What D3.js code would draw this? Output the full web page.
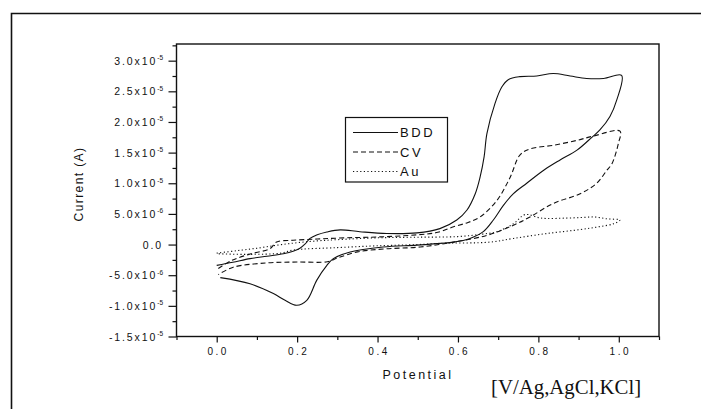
<!DOCTYPE html>
<html>
<head>
<meta charset="utf-8">
<script src="https://cdn.jsdelivr.net/npm/d3@7"></script>
<style>
  html, body { margin: 0; padding: 0; background: #fff; }
  svg { display: block; }
  text { fill: #111; font-family: "Liberation Sans", Arial, sans-serif; }
</style>
</head>
<body>
<svg id="chart" width="701" height="409"></svg>
<script>
// Cyclic voltammograms: potential (V) vs current (A)
const bddPotential = [0.000, 0.040, 0.083, 0.125, 0.166, 0.190, 0.207, 0.220, 0.232, 0.250, 0.274, 0.307, 0.356, 0.423, 0.498, 0.555, 0.597, 0.622, 0.643, 0.655, 0.665, 0.672, 0.692, 0.709, 0.725, 0.754, 0.796, 0.837, 0.879, 0.920, 0.962, 1.007,
  0.995, 0.978, 0.953, 0.933, 0.896, 0.854, 0.815, 0.771, 0.738, 0.713, 0.688, 0.663, 0.630, 0.589, 0.555, 0.498, 0.414, 0.332, 0.290, 0.274, 0.249, 0.224, 0.199, 0.170, 0.141, 0.083, 0.009];
const bddCurrent = [-3.4e-6, -2.9e-6, -2.3e-6, -1.9e-6, -1.5e-6, -1.1e-6, -0.6e-6, 0.1e-6, 1.0e-6, 1.6e-6, 2.05e-6, 2.4e-6, 2.1e-6, 1.8e-6, 1.9e-6, 2.6e-6, 4.0e-6, 5.6e-6, 8.3e-6, 11.0e-6, 14.3e-6, 18.1e-6, 23.0e-6, 25.7e-6, 26.9e-6, 27.4e-6, 27.5e-6, 27.9e-6, 27.5e-6, 27.1e-6, 27.1e-6, 27.6e-6,
  23.6e-6, 20.9e-6, 18.7e-6, 17.5e-6, 15.4e-6, 13.8e-6, 12.2e-6, 10.0e-6, 8.3e-6, 6.4e-6, 4.0e-6, 2.1e-6, 1.0e-6, 0.4e-6, 0.2e-6, -0.1e-6, -0.4e-6, -1.2e-6, -2.3e-6, -3.4e-6, -5.8e-6, -9.1e-6, -9.9e-6, -9.1e-6, -8.0e-6, -6.4e-6, -5.4e-6];

const cvPotential = [0.004, 0.037, 0.080, 0.133, 0.149, 0.190, 0.250, 0.320, 0.406, 0.500, 0.550, 0.589, 0.625, 0.655, 0.697, 0.730, 0.754, 0.779, 0.837, 0.896, 0.937, 1.003,
  0.999, 0.983, 0.970, 0.945, 0.904, 0.837, 0.779, 0.738, 0.672, 0.589, 0.506, 0.420, 0.350, 0.300, 0.275, 0.200, 0.124, 0.041, 0.004];
const cvCurrent = [-3.9e-6, -2.6e-6, -1.6e-6, -0.65e-6, 0.42e-6, 0.7e-6, 0.9e-6, 1.1e-6, 1.25e-6, 1.6e-6, 2.0e-6, 2.9e-6, 3.6e-6, 4.5e-6, 7.2e-6, 11.0e-6, 14.6e-6, 15.6e-6, 16.2e-6, 17.0e-6, 17.7e-6, 18.5e-6,
  16.5e-6, 13.2e-6, 12.1e-6, 10.0e-6, 8.3e-6, 6.7e-6, 4.5e-6, 3.15e-6, 1.5e-6, 0.4e-6, -0.4e-6, -0.7e-6, -1.2e-6, -2.2e-6, -2.8e-6, -2.85e-6, -3.0e-6, -3.7e-6, -4.9e-6];

const auPotential = [0.000, 0.050, 0.100, 0.150, 0.200, 0.250, 0.300, 0.400, 0.500, 0.600, 0.660, 0.697, 0.738, 0.763, 0.775, 0.800, 0.821, 0.860, 0.904, 0.940, 0.970, 1.003,
  0.987, 0.950, 0.904, 0.821, 0.738, 0.680, 0.555, 0.500, 0.400, 0.300, 0.190, 0.160, 0.080, 0.000];
const auCurrent = [-1.4e-6, -1.0e-6, -0.6e-6, -0.1e-6, 0.3e-6, 0.6e-6, 0.8e-6, 1.1e-6, 1.2e-6, 1.3e-6, 1.7e-6, 2.1e-6, 3.4e-6, 4.8e-6, 4.9e-6, 4.4e-6, 4.25e-6, 4.3e-6, 4.4e-6, 4.5e-6, 4.2e-6, 4.0e-6,
  3.4e-6, 2.9e-6, 2.45e-6, 1.8e-6, 1.0e-6, 0.4e-6, 0.2e-6, 0.0e-6, -0.2e-6, -0.5e-6, -0.9e-6, -1.4e-6, -1.6e-6, -1.5e-6];

const seriesNames = ["BDD", "CV", "Au"];

const xTicks = [0.0, 0.2, 0.4, 0.6, 0.8, 1.0];
const xTickLabels = ["0.0", "0.2", "0.4", "0.6", "0.8", "1.0"];
const xMinorTicks = [-0.1, 0.1, 0.3, 0.5, 0.7, 0.9, 1.1];

const yTicks = [-1.5e-5, -1.0e-5, -5.0e-6, 0, 5.0e-6, 1.0e-5, 1.5e-5, 2.0e-5, 2.5e-5, 3.0e-5];
const yTickMantissa = ["-1.5x10", "-1.0x10", "-5.0x10", "0.0", "5.0x10", "1.0x10", "1.5x10", "2.0x10", "2.5x10", "3.0x10"];
const yTickExponent = ["-5", "-5", "-6", "", "-6", "-5", "-5", "-5", "-5", "-5"];
const yMinorTicks = [-1.25e-5, -7.5e-6, -2.5e-6, 2.5e-6, 7.5e-6, 1.25e-5, 1.75e-5, 2.25e-5, 2.75e-5, 3.25e-5];

const xTitle = "Potential";
const yTitle = "Current (A)";
const unitNote = "[V/Ag,AgCl,KCl]";

// ---- layout ----
const svg = d3.select("#chart");
const plot = { left: 176.5, right: 659, top: 44, bottom: 336.5 };

const x = d3.scaleLinear().domain([-0.1, 1.1]).range([plot.left, plot.right]);
const y = d3.scaleLinear().domain([-1.5e-5, 3.272e-5]).range([plot.bottom, plot.top]);

// outer page frame (runs off the right and bottom edges)
svg.append("path")
  .attr("d", "M11.5,409 V13.5 H701")
  .attr("fill", "none").attr("stroke", "#111").attr("stroke-width", 1.6);

// plot frame
svg.append("rect")
  .attr("x", plot.left).attr("y", plot.top)
  .attr("width", plot.right - plot.left).attr("height", plot.bottom - plot.top)
  .attr("fill", "none").attr("stroke", "#111").attr("stroke-width", 1.4);

// x axis
const xAxis = d3.axisBottom(x).tickValues(xTicks).tickSize(6).tickFormat((d, i) => xTickLabels[i]);
const gx = svg.append("g").attr("transform", `translate(0,${plot.bottom})`).call(xAxis);
gx.select(".domain").remove();
gx.selectAll(".tick line").attr("stroke", "#111").attr("stroke-width", 1.2);
gx.selectAll(".tick text")
  .attr("y", 11).attr("dy", "0.71em")
  .attr("dx", "1px")
  .style("font-size", "10px").style("letter-spacing", "2.5px")
  .style("font-family", "'Liberation Sans', Arial, sans-serif").attr("fill", "#111");

const xMinor = d3.axisBottom(x).tickValues(xMinorTicks).tickSize(3.5).tickFormat("");
const gxm = svg.append("g").attr("transform", `translate(0,${plot.bottom})`).call(xMinor);
gxm.select(".domain").remove();
gxm.selectAll(".tick line").attr("stroke", "#111").attr("stroke-width", 1.2);

// y axis
const yAxis = d3.axisLeft(y).tickValues(yTicks).tickSize(8).tickFormat("");
const gy = svg.append("g").attr("transform", `translate(${plot.left},0)`).call(yAxis);
gy.select(".domain").remove();
gy.selectAll(".tick line").attr("stroke", "#111").attr("stroke-width", 1.2);

const yMinor = d3.axisLeft(y).tickValues(yMinorTicks).tickSize(4).tickFormat("");
const gym = svg.append("g").attr("transform", `translate(${plot.left},0)`).call(yMinor);
gym.select(".domain").remove();
gym.selectAll(".tick line").attr("stroke", "#111").attr("stroke-width", 1.2);

// y tick labels with superscript exponents
const yLab = svg.append("g");
yTicks.forEach((v, i) => {
  const t = yLab.append("text")
    .attr("x", 163).attr("y", y(v) + 4)
    .attr("text-anchor", "end")
    .style("font-size", "10.5px").style("letter-spacing", "1.9px");
  t.append("tspan").text(yTickMantissa[i]);
  if (yTickExponent[i]) {
    t.append("tspan").attr("dy", -4.5).style("font-size", "6.5px").style("letter-spacing", "0px").text(yTickExponent[i]);
  }
});

// axis titles
svg.append("text")
  .attr("x", 418).attr("y", 379)
  .attr("text-anchor", "middle")
  .style("font-size", "12.5px").style("letter-spacing", "2.5px")
  .text(xTitle);

svg.append("text")
  .attr("transform", "translate(83,184) rotate(-90)")
  .attr("text-anchor", "middle")
  .style("font-size", "12px").style("letter-spacing", "1.4px")
  .text(yTitle);

svg.append("text")
  .attr("x", 491).attr("y", 394)
  .style("font-family", "'Liberation Serif', 'Times New Roman', serif")
  .style("font-size", "20.8px")
  .text(unitNote);

// curves
const line = d3.line()
  .x(d => x(d[0]))
  .y(d => y(d[1]))
  .curve(d3.curveCatmullRom.alpha(0.5));

const series = [
  { name: seriesNames[0], pts: d3.zip(bddPotential, bddCurrent), dash: null },
  { name: seriesNames[1], pts: d3.zip(cvPotential, cvCurrent), dash: "5,3" },
  { name: seriesNames[2], pts: d3.zip(auPotential, auCurrent), dash: "1.2,2.4" }
];

svg.append("clipPath").attr("id", "plotClip")
  .append("rect").attr("x", plot.left).attr("y", plot.top)
  .attr("width", plot.right - plot.left).attr("height", plot.bottom - plot.top);

svg.append("g").attr("clip-path", "url(#plotClip)")
  .selectAll("path")
  .data(series)
  .join("path")
  .attr("d", d => line(d.pts))
  .attr("fill", "none")
  .attr("stroke", "#111")
  .attr("stroke-width", 1.1)
  .attr("stroke-dasharray", d => d.dash);

// legend
const legend = svg.append("g");
legend.append("rect")
  .attr("x", 345.5).attr("y", 117.5).attr("width", 102).attr("height", 64.5)
  .attr("fill", "#fff").attr("stroke", "#111").attr("stroke-width", 1.2);

series.forEach((s, i) => {
  const ly = 132.5 + i * 19.5;
  legend.append("line")
    .attr("x1", 353).attr("x2", 398).attr("y1", ly).attr("y2", ly)
    .attr("stroke", "#111").attr("stroke-width", 1.1)
    .attr("stroke-dasharray", s.dash);
  legend.append("text")
    .attr("x", 400).attr("y", ly + 4.8)
    .style("font-size", "13px").style("letter-spacing", "2.6px")
    .text(s.name);
});
</script>
</body>
</html>
